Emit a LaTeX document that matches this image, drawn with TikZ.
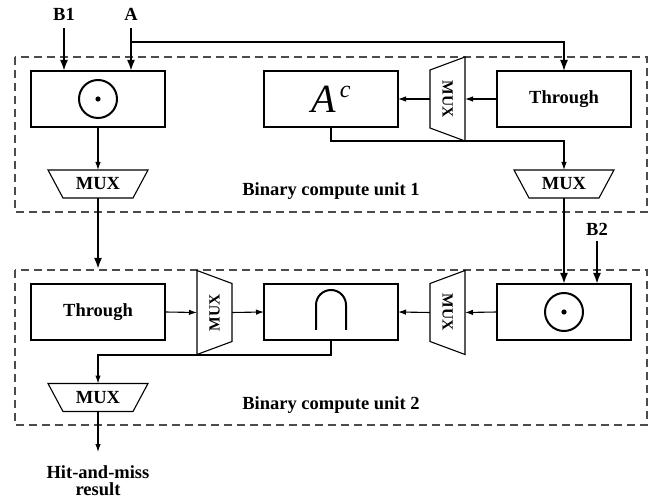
\documentclass[tikz,border=0pt]{standalone}
\usepackage{fontspec}
\setmainfont{Liberation Serif}
\usetikzlibrary{arrows.meta}
\begin{document}
\begin{tikzpicture}[x=1pt,y=-1pt,
  every node/.style={font=\fontsize{18.5}{20}\selectfont\bfseries},
  box/.style={draw, line width=1.1pt, minimum width=134pt, minimum height=56pt, inner sep=0pt, outer sep=0pt},
  muxh/.style={minimum width=100pt, minimum height=28pt, inner sep=0pt, outer sep=0pt},
  muxv/.style={minimum width=35pt, minimum height=84pt, inner sep=0pt, outer sep=0pt},
  muxline/.style={draw, line width=1.1pt, line join=miter},
  thick arrow/.style={line width=2pt, -{Latex[length=11pt,width=8pt]}},
  thin arrow/.style={line width=1.1pt, -{Latex[length=8pt,width=5.5pt]}},
  unitbox/.style={draw=black!70, line width=1.3pt, dash pattern=on 8pt off 5pt},
  lbl/.style={inner sep=0pt}
]
\useasboundingbox (0,0) rectangle (653,502);

% dashed unit boxes
\draw[unitbox] (15,57) rectangle (647,212);
\draw[unitbox] (15,270) rectangle (647,425);

% ---------------- Unit 1 ----------------
\node[box] (dot1) at (98,99) {};
\draw[line width=2pt] (dot1.center) circle (19pt);
\fill (dot1.center) circle (2.6pt);

\node[box] (ac) at (331,99) {\fontsize{40}{40}\selectfont\mdseries\itshape A\hspace{4pt}\raisebox{15pt}{\fontsize{24}{24}\selectfont c}};
\node[box] (thr1) at (564,99) {Through};

\node[muxv] (mv1) at (447.5,99) {};
\draw[muxline] (mv1.north east) -- (mv1.south east) -- ([yshift=13pt]mv1.south west) -- ([yshift=-13pt]mv1.north west) -- cycle;
\node[rotate=-90] at (mv1.center) {\fontsize{15.5}{16}\selectfont MUX};

\node[muxh] (mh1l) at (98,184) {MUX};
\draw[muxline] (mh1l.north west) -- (mh1l.north east) -- ([xshift=-15pt]mh1l.south east) -- ([xshift=15pt]mh1l.south west) -- cycle;
\node[muxh] (mh1r) at (564,184) {MUX};
\draw[muxline] (mh1r.north west) -- (mh1r.north east) -- ([xshift=-15pt]mh1r.south east) -- ([xshift=15pt]mh1r.south west) -- cycle;

\node[lbl] (u1) at (331,191) {Binary compute unit 1};

% inputs
\node[lbl] (b1) at (64,14) {B1};
\node[lbl] (a) at (131,14) {A};
\coordinate (b1s) at (64,28);
\coordinate (as) at (131,28);
\coordinate (asplit) at (131,42);
\draw[thick arrow] (b1s) -- (b1s |- dot1.north);
\draw[thick arrow] (as) -- (as |- dot1.north);
\draw[line width=1.5pt, -{Latex[length=11pt,width=8pt]}] (asplit) -- (asplit -| thr1.north) -- (thr1.north);

\draw[thin arrow] (thr1.west) -- (mv1.east);
\draw[thin arrow] (mv1.west) -- (ac.east);
\draw[thin arrow] (ac.south) -- ++(0,14) -| (mh1r.north);
\draw[thin arrow] (dot1.south) -- (mh1l.north);

% ---------------- Unit 2 ----------------
\node[box] (thr2) at (98,312) {Through};
\node[box] (cap) at (331,312) {};
\draw[line width=2pt] ([xshift=-15pt,yshift=-18pt]cap.center) -- ([xshift=-15pt,yshift=7pt]cap.center) arc[start angle=180,end angle=0,radius=15pt] -- ([xshift=15pt,yshift=-18pt]cap.center);
\node[box] (dot2) at (564,312) {};
\draw[line width=2pt] (dot2.center) circle (19pt);
\fill (dot2.center) circle (2.6pt);

\node[muxv] (mv2l) at (214.5,312.5) {};
\draw[muxline] (mv2l.north west) -- (mv2l.south west) -- ([yshift=13pt]mv2l.south east) -- ([yshift=-13pt]mv2l.north east) -- cycle;
\node[rotate=90] at (mv2l.center) {\fontsize{15.5}{16}\selectfont MUX};

\node[muxv] (mv2r) at (447.5,312.5) {};
\draw[muxline] (mv2r.north east) -- (mv2r.south east) -- ([yshift=13pt]mv2r.south west) -- ([yshift=-13pt]mv2r.north west) -- cycle;
\node[rotate=-90] at (mv2r.center) {\fontsize{15.5}{16}\selectfont MUX};

\node[muxh] (mh2) at (98,397.5) {MUX};
\draw[muxline] (mh2.north west) -- (mh2.north east) -- ([xshift=-15pt]mh2.south east) -- ([xshift=15pt]mh2.south west) -- cycle;

\node[lbl] (u2) at (331,405) {Binary compute unit 2};

\draw[thin arrow] (dot2.west) -- (mv2r.east);
\draw[thin arrow] (mv2r.west) -- (cap.east);
\draw[thin arrow] (thr2.east) -- (mv2l.west);
\draw[thin arrow] (mv2l.east) -- (cap.west);
\draw[thin arrow] (cap.south) -- ++(0,15) -| (mh2.north);

% inter-unit connections
\coordinate (u2top) at (98,269);
\draw[thick arrow] (mh1l.south) -- (u2top);
\draw[thick arrow] (mh1r.south) -- (dot2.north);
\node[lbl] (b2) at (597,229) {B2};
\coordinate (b2s) at (597,241);
\draw[thick arrow] (b2s) -- (b2s |- dot2.north);

% output
\coordinate (outend) at (98,452);
\draw[thin arrow] (mh2.south) -- (outend);
\node[lbl, align=center, font=\fontsize{18.5}{17}\selectfont\bfseries] (res) at (98,481) {Hit-and-miss\\result};
\end{tikzpicture}
\end{document}
